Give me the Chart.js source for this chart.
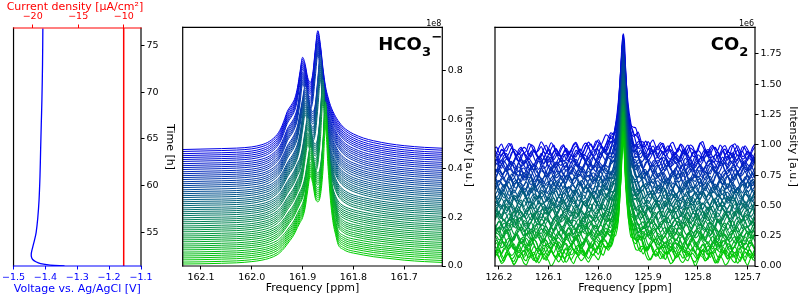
<!DOCTYPE html>
<html>
<head>
<script src="https://cdn.jsdelivr.net/npm/chart.js"></script>
<style>
  body { margin: 0; background: #fff; }
  canvas { position: absolute; top: 0; }
</style>
</head>
<body>
<canvas id="echem" width="181" height="296" style="left:0"></canvas>
<canvas id="hco3" width="299" height="296" style="left:181px"></canvas>
<canvas id="co2" width="320" height="296" style="left:480px"></canvas>
<script>
// ---------- left panel: potential / current vs time ----------
const echemTime = [51.42, 51.5, 51.65, 51.85, 52.1, 52.4, 52.8, 53.4, 54.2, 55, 56.5, 58.4, 61, 63.8, 66.5, 69.1, 73, 76.8];
const echemVoltage = [-1.34, -1.385, -1.415, -1.43, -1.44, -1.444, -1.444, -1.44, -1.434, -1.429, -1.424, -1.42, -1.417, -1.415, -1.413, -1.411, -1.409, -1.408];
const currentTime = [51.4, 76.85];
const currentDensity = [-10, -10];
const timeTicks = [55, 60, 65, 70, 75];
const voltageTicks = [-1.5, -1.4, -1.3, -1.2, -1.1];
const currentTicks = [-20, -15, -10];

// ---------- HCO3- spectra (intensity in 1e8) ----------
const hcoFreq = [162.14, 162.10, 162.06, 162.03, 162.00, 161.98, 161.965, 161.95, 161.945, 161.94, 161.935, 161.93, 161.925, 161.92, 161.915, 161.91, 161.905, 161.90, 161.895, 161.89, 161.885, 161.88, 161.875, 161.87, 161.865, 161.86, 161.855, 161.85, 161.845, 161.84, 161.835, 161.83, 161.82, 161.81, 161.80, 161.78, 161.76, 161.73, 161.70, 161.66, 161.62];
// spectrum above its own baseline, from the earliest (front) to the latest (back) traces
const hcoSpec1 = [0.000, 0.001, 0.003, 0.005, 0.010, 0.016, 0.024, 0.038, 0.046, 0.056, 0.068, 0.082, 0.096, 0.110, 0.128, 0.150, 0.170, 0.190, 0.230, 0.300, 0.360, 0.330, 0.270, 0.255, 0.280, 0.380, 0.560, 0.400, 0.260, 0.170, 0.120, 0.080, 0.060, 0.050, 0.045, 0.037, 0.030, 0.023, 0.016, 0.010, 0.006];
const hcoSpec2 = [0.000, 0.001, 0.003, 0.005, 0.010, 0.016, 0.025, 0.041, 0.050, 0.061, 0.075, 0.090, 0.105, 0.119, 0.138, 0.160, 0.182, 0.205, 0.245, 0.310, 0.365, 0.335, 0.275, 0.258, 0.285, 0.385, 0.550, 0.400, 0.265, 0.178, 0.128, 0.088, 0.064, 0.053, 0.047, 0.038, 0.031, 0.023, 0.016, 0.010, 0.006];
const hcoSpec3 = [0.000, 0.001, 0.003, 0.005, 0.010, 0.017, 0.026, 0.044, 0.054, 0.066, 0.082, 0.099, 0.114, 0.129, 0.148, 0.171, 0.195, 0.235, 0.305, 0.365, 0.335, 0.275, 0.258, 0.285, 0.390, 0.540, 0.390, 0.260, 0.185, 0.135, 0.105, 0.085, 0.066, 0.056, 0.049, 0.039, 0.031, 0.023, 0.016, 0.010, 0.006];
const hcoSpec4 = [0.000, 0.002, 0.003, 0.005, 0.010, 0.017, 0.027, 0.047, 0.058, 0.072, 0.090, 0.108, 0.124, 0.139, 0.159, 0.183, 0.205, 0.250, 0.315, 0.370, 0.340, 0.280, 0.262, 0.290, 0.390, 0.525, 0.382, 0.265, 0.195, 0.150, 0.120, 0.098, 0.075, 0.062, 0.053, 0.042, 0.033, 0.023, 0.016, 0.010, 0.006];
const hcoSpec5 = [0.000, 0.002, 0.003, 0.005, 0.010, 0.018, 0.028, 0.050, 0.062, 0.078, 0.098, 0.118, 0.135, 0.150, 0.170, 0.196, 0.240, 0.310, 0.372, 0.342, 0.285, 0.265, 0.295, 0.400, 0.515, 0.400, 0.285, 0.215, 0.175, 0.148, 0.127, 0.107, 0.082, 0.068, 0.058, 0.044, 0.034, 0.024, 0.016, 0.009, 0.005];
const hcoSpec6 = [0.000, 0.002, 0.004, 0.006, 0.011, 0.018, 0.030, 0.054, 0.067, 0.085, 0.107, 0.130, 0.147, 0.162, 0.183, 0.212, 0.265, 0.322, 0.375, 0.345, 0.290, 0.270, 0.300, 0.405, 0.505, 0.405, 0.290, 0.218, 0.178, 0.152, 0.130, 0.110, 0.085, 0.070, 0.060, 0.045, 0.035, 0.024, 0.016, 0.009, 0.005];
const hcoSpec7 = [0.000, 0.002, 0.004, 0.006, 0.011, 0.019, 0.032, 0.058, 0.072, 0.092, 0.117, 0.143, 0.160, 0.175, 0.197, 0.232, 0.300, 0.376, 0.348, 0.293, 0.272, 0.305, 0.405, 0.495, 0.428, 0.333, 0.258, 0.213, 0.178, 0.154, 0.134, 0.116, 0.090, 0.074, 0.063, 0.046, 0.036, 0.024, 0.016, 0.009, 0.005];
const hcoSpec8 = [0.000, 0.002, 0.004, 0.006, 0.011, 0.020, 0.034, 0.062, 0.078, 0.100, 0.128, 0.157, 0.174, 0.190, 0.212, 0.255, 0.320, 0.378, 0.350, 0.295, 0.275, 0.310, 0.410, 0.487, 0.430, 0.335, 0.260, 0.215, 0.180, 0.155, 0.135, 0.118, 0.092, 0.076, 0.064, 0.047, 0.036, 0.024, 0.016, 0.009, 0.005];
const hcoShapes = [hcoSpec1, hcoSpec2, hcoSpec3, hcoSpec4, hcoSpec5, hcoSpec6, hcoSpec7, hcoSpec8];
const hcoBaselines = [0.008, 0.016, 0.025, 0.033, 0.041, 0.049, 0.057, 0.066, 0.074, 0.082, 0.090, 0.099, 0.107, 0.115, 0.123, 0.131, 0.140, 0.148, 0.156, 0.164, 0.173, 0.181, 0.189, 0.197, 0.206, 0.214, 0.222, 0.230, 0.238, 0.247, 0.255, 0.263, 0.271, 0.280, 0.288, 0.296, 0.304, 0.312, 0.321, 0.329, 0.337, 0.345, 0.354, 0.362, 0.370, 0.378, 0.386, 0.395, 0.403, 0.411, 0.419, 0.428, 0.436, 0.444, 0.452, 0.460, 0.469, 0.477];
const hcoXTicks = [162.1, 162.0, 161.9, 161.8, 161.7];
const hcoYTicks = [0, 0.2, 0.4, 0.6, 0.8];

// ---------- CO2 spectra (intensity in 1e6) ----------
const co2Freq = [126.210, 126.205, 126.200, 126.195, 126.190, 126.185, 126.180, 126.175, 126.170, 126.165,
  126.160, 126.155, 126.150, 126.145, 126.140, 126.135, 126.130, 126.125, 126.120, 126.115,
  126.110, 126.105, 126.100, 126.095, 126.090, 126.085, 126.080, 126.075, 126.070, 126.065,
  126.060, 126.055, 126.050, 126.045, 126.040, 126.035, 126.030, 126.025, 126.020, 126.015,
  126.010, 126.005, 126.000, 125.995, 125.990, 125.985, 125.980, 125.975, 125.970, 125.965,
  125.960, 125.955, 125.9525, 125.950, 125.9475, 125.945, 125.940, 125.935, 125.930, 125.925,
  125.920, 125.915, 125.910, 125.905, 125.900, 125.895, 125.890, 125.885, 125.880, 125.875,
  125.870, 125.865, 125.860, 125.855, 125.850, 125.845, 125.840, 125.835, 125.830, 125.825,
  125.820, 125.815, 125.810, 125.805, 125.800, 125.795, 125.790, 125.785, 125.780, 125.775,
  125.770, 125.765, 125.760, 125.755, 125.750, 125.745, 125.740, 125.735, 125.730, 125.725,
  125.720, 125.715, 125.710, 125.705, 125.700, 125.695, 125.690, 125.685];
const co2Peak = [0.002, 0.002, 0.002, 0.002, 0.003, 0.003, 0.003, 0.003, 0.003, 0.003,
  0.004, 0.004, 0.004, 0.004, 0.005, 0.005, 0.005, 0.005, 0.006, 0.006,
  0.006, 0.007, 0.007, 0.008, 0.008, 0.009, 0.009, 0.010, 0.010, 0.011,
  0.012, 0.013, 0.015, 0.016, 0.018, 0.020, 0.022, 0.025, 0.028, 0.032,
  0.036, 0.042, 0.048, 0.057, 0.067, 0.081, 0.098, 0.123, 0.161, 0.227,
  0.360, 0.663, 0.883, 1.000, 0.883, 0.663, 0.360, 0.227, 0.161, 0.123,
  0.098, 0.081, 0.067, 0.057, 0.048, 0.042, 0.036, 0.032, 0.028, 0.025,
  0.022, 0.020, 0.018, 0.016, 0.015, 0.013, 0.012, 0.011, 0.010, 0.010,
  0.009, 0.009, 0.008, 0.008, 0.007, 0.007, 0.006, 0.006, 0.006, 0.005,
  0.005, 0.005, 0.005, 0.004, 0.004, 0.004, 0.004, 0.003, 0.003, 0.003,
  0.003, 0.003, 0.003, 0.002, 0.002, 0.002, 0.002, 0.002];
const co2PeakHeight = 0.97;
const co2Baselines = [0.05, 0.07, 0.08, 0.10, 0.11, 0.13, 0.15, 0.16, 0.18, 0.19, 0.21, 0.23, 0.24, 0.26, 0.27, 0.29, 0.31, 0.32, 0.34, 0.35, 0.37, 0.39, 0.40, 0.42, 0.43, 0.45, 0.47, 0.48, 0.50, 0.51, 0.53, 0.55, 0.56, 0.58, 0.59, 0.61, 0.63, 0.64, 0.66, 0.67, 0.69, 0.71, 0.72, 0.74, 0.75, 0.77, 0.79, 0.80, 0.82, 0.83, 0.85, 0.87, 0.88, 0.90, 0.91, 0.93, 0.95, 0.96];
// baseline noise of the spectra, in units of co2NoiseUnit
const co2NoiseUnit = 0.015;
const co2NoiseA = [0, 3, 1, -2, -1, 2, 3, 0, -3, -1, 2, 1, -2, -3, 0, 2, 4, 1, -2, 0, 3, 1, -1, -4, -2, 1, 3, 0, -2, 1, 2, -1, -3, 0, 2, 4, 2, -1, -3, -1, 1, -1, -3, 0, 3, 2, -1, 0, 2, -1, -2, 1, 4, 2, -2, -3, 0, 2, 0, -2, -1, 2, 3, -1, -3, -2, 1, 3, 1, -1, 1, 3, 0, -3, -2, 1, 2, -1, -2, 0, 3, 2, -1, -4, -1, 2, 1, -1, 1, 4, 1, -2, -1, 2, 0, -3, -2, 1, 3, 1, -2, 0, 2, -1, -3, 0, 3, 2, -1, -2, 1, 0, -2, 1, 4, 2, -1, -3, 0, 2, 1];
const co2NoiseB = [2, -1, -3, 0, 2, 1, -2, -1, 3, 4, 0, -2, 1, 2, -1, -4, -2, 1, 2, -1, -2, 2, 3, 0, -3, -1, 2, 0, -2, 1, 3, 1, -1, -3, -1, 2, 4, 1, -2, 0, 2, -1, -3, -2, 1, 3, 0, -1, 2, 3, -1, -3, 0, 1, -2, -1, 3, 2, -1, -2, 1, 4, 2, -1, -3, 0, 2, -1, -2, 1, 2, -2, -4, -1, 2, 3, 0, -2, 1, 2, 0, -3, -1, 2, 1, -1, 1, 3, 1, -2, -3, 0, 3, 1, -2, -1, 2, 0, -3, -1, 2, 4, 1, -1, 0, -2, -3, 1, 3, 0, -2, 1, 2, -1, -2, 2, 3, 0, -2];
const co2NoiseC = [-1, 1, 3, 0, -2, -1, 2, 0, -3, -2, 1, 3, 1, -1, 2, 3, -1, -3, -1, 2, 1, -2, -3, 0, 3, 2, -1, 1, 4, 2, -2, -3, 0, 1, -2, -1, 2, 3, 0, -2, 0, 2, -1, -4, -2, 2, 3, 1, -1, 1, 2, -1, -3, -1, 2, 0, -2, 1, 4, 3, -1, -2, 1, 0, -3, -2, 1, 2, -1, 0, 3, 1, -2, -1, 2, -1, -3, 0, 2, 3, 0, -2, -1, 1, -1, -3, 1, 3, 1, -1, 2, 4, 1, -2, -3, 0, 1, -1, -2, 2, 3, -1, -2, 1, 2, -2, -4, -1, 1, 3, 2, -1, 0, 2, -1, -3, 0, 2, 1];
const co2NoiseD = [1, -2, -1, 2, 3, 0, -2, 1, 2, -1, -3, -1, 2, 4, 1, -2, -1, 1, -1, -3, 0, 2, 1, -2, 0, 3, 2, -1, -3, -2, 1, 3, 0, -1, 2, 1, -2, -4, -1, 2, 1, -1, 1, 3, 2, -1, -2, 1, 0, -3, -2, 2, 4, 1, -1, 0, 2, -1, -3, 0, 2, 0, -2, 1, 3, 1, -2, -3, -1, 2, 3, 0, -1, 2, 1, -2, -3, 0, 1, -1, 0, 3, 4, 0, -2, -1, 2, -1, -3, -1, 2, 2, -1, 0, 3, 1, -3, -2, 1, 2, 0, -2, 1, 3, 0, -3, -1, 2, 1, -1, 2, 4, 1, -2, -2, 1, 0, -3];
const co2Noise = [co2NoiseA, co2NoiseB, co2NoiseC, co2NoiseD];
const co2XTicks = [126.2, 126.1, 126.0, 125.9, 125.8, 125.7];
const co2YTicks = [0, 0.25, 0.5, 0.75, 1.0, 1.25, 1.5, 1.75];

// ---------- helpers ----------
Chart.defaults.font.family = "'DejaVu Sans', sans-serif";

const fmt = d => v => v.toFixed(d).replace('-', '\u2212');
const early = [0, 205, 0], late = [0, 0, 230];
function traceColor(i, n) {
  const t = i / (n - 1);
  const c = early.map((e, k) => Math.round(e + (late[k] - e) * t));
  return `rgb(${c[0]},${c[1]},${c[2]})`;
}

function axis(o) {
  const horizontal = o.position === 'top' || o.position === 'bottom';
  const color = o.color || '#000';
  return {
    type: 'linear', position: o.position, min: o.min, max: o.max, reverse: !!o.reverse,
    afterBuildTicks: s => { s.ticks = o.ticks.map(v => ({ value: v })); },
    afterFit: s => { if (horizontal) s.height = o.size; else s.width = o.size; },
    grid: { display: true, drawOnChartArea: false, drawTicks: true, tickLength: 3.5, color: color, lineWidth: 1 },
    border: { display: false },
    ticks: { color: color, font: { size: 9.5 }, padding: 2, maxRotation: 0, autoSkip: false, callback: o.format },
    title: { display: !!o.title, text: o.title, color: color, font: { size: 11 }, padding: o.titlePad }
  };
}

function spines(c) {
  return {
    id: 'spines',
    afterDraw(chart) {
      const { ctx, chartArea: a } = chart;
      ctx.save();
      ctx.lineWidth = 1.2;
      ctx.lineCap = 'square';
      [['left', a.left, a.top, a.left, a.bottom], ['right', a.right, a.top, a.right, a.bottom],
       ['top', a.left, a.top, a.right, a.top], ['bottom', a.left, a.bottom, a.right, a.bottom]].forEach(([k, x1, y1, x2, y2]) => {
        ctx.strokeStyle = c[k];
        ctx.beginPath(); ctx.moveTo(x1, y1); ctx.lineTo(x2, y2); ctx.stroke();
      });
      ctx.restore();
    }
  };
}

// the top-axis title is wider than the plot, so it is drawn here instead of by the scale (which would squeeze it)
const currentTitle = {
  id: 'currentTitle',
  afterDraw(chart) {
    const { ctx, chartArea: a } = chart;
    ctx.save();
    ctx.fillStyle = '#ff0000';
    ctx.font = "11px 'DejaVu Sans'";
    ctx.textAlign = 'center';
    ctx.textBaseline = 'middle';
    ctx.fillText('Current density [\u03bcA/cm\u00b2]', (a.left + a.right) / 2 - 2.3, 6.7);
    ctx.restore();
  }
};

// chemical formula in the corner + the exponent label of the y axis
function panelLabel(main, sub, sup, fromRight, exponent) {
  return {
    id: 'panelLabel',
    afterDraw(chart) {
      const { ctx, chartArea: a } = chart;
      ctx.save();
      ctx.fillStyle = '#000';
      ctx.textBaseline = 'alphabetic';
      ctx.textAlign = 'left';
      let x = a.right - fromRight;
      ctx.font = "bold 18px 'DejaVu Sans'";
      ctx.fillText(main, x, a.top + 22.7);
      x += ctx.measureText(main).width;
      ctx.font = "bold 13px 'DejaVu Sans'";
      ctx.fillText(sub, x, a.top + 28.5);
      x += ctx.measureText(sub).width + 0.5;
      if (sup) ctx.fillText(sup, x, a.top + 13.5);
      ctx.font = "8px 'DejaVu Sans'";
      ctx.textAlign = 'right';
      ctx.fillText(exponent, a.right - 1, a.top - 1.5);
      ctx.restore();
    }
  };
}

const common = { responsive: false, animation: false, events: [], plugins: { legend: { display: false }, tooltip: { enabled: false } } };

// ---------- left panel ----------
new Chart(document.getElementById('echem'), {
  type: 'line',
  data: {
    datasets: [
      { data: echemTime.map((t, i) => ({ x: echemVoltage[i], y: t })), xAxisID: 'xV', yAxisID: 'yT',
        borderColor: '#0000ff', borderWidth: 1.3, pointRadius: 0, tension: 0.35 },
      { data: currentTime.map((t, i) => ({ x: currentDensity[i], y: t })), xAxisID: 'xI', yAxisID: 'yT',
        borderColor: '#ff0000', borderWidth: 1.5, pointRadius: 0 }
    ]
  },
  options: Object.assign({}, common, {
    layout: { padding: { left: 12, right: 0, top: 0, bottom: 0 } },
    scales: {
      xV: axis({ position: 'bottom', min: -1.5, max: -1.1, ticks: voltageTicks, format: fmt(1), color: '#0000ff',
        title: 'Voltage vs. Ag/AgCl [V]', titlePad: { top: 0, bottom: 0 }, size: 30 }),
      xI: axis({ position: 'top', min: -22.1, max: -8.1, ticks: currentTicks, format: fmt(0), color: '#ff0000',
        title: '', titlePad: 0, size: 28 }),
      yT: axis({ position: 'right', min: 51.4, max: 76.85, ticks: timeTicks, format: fmt(0),
        title: 'Time [h]', titlePad: { top: 4.4, bottom: 0 }, size: 40 })
    }
  }),
  plugins: [spines({ left: '#000', right: '#000', top: '#ff0000', bottom: '#0000ff' }), currentTitle]
});

// ---------- HCO3- panel ----------
const hcoDatasets = hcoBaselines.map((b, i) => {
  const shape = hcoShapes[Math.floor(i * hcoShapes.length / hcoBaselines.length)];
  return {
    data: hcoFreq.map((f, j) => ({ x: f, y: b + shape[j] })),
    borderColor: traceColor(i, hcoBaselines.length),
    backgroundColor: '#ffffff',
    fill: 'origin',
    borderWidth: 1,
    pointRadius: 0,
    cubicInterpolationMode: 'monotone'
  };
});

new Chart(document.getElementById('hco3'), {
  type: 'line',
  data: { datasets: hcoDatasets },
  options: Object.assign({}, common, {
    layout: { padding: { left: 1.7, right: 0, top: 27.3, bottom: 0 } },
    scales: {
      x: axis({ position: 'bottom', min: 161.625, max: 162.136, reverse: true, ticks: hcoXTicks, format: fmt(1),
        title: 'Frequency [ppm]', titlePad: { top: 0, bottom: 1 }, size: 30 }),
      y: axis({ position: 'right', min: 0, max: 0.978, ticks: hcoYTicks, format: fmt(1),
        title: 'Intensity [a.u.]', titlePad: { top: 4.4, bottom: 0 }, size: 37.7 })
    }
  }),
  plugins: [spines({ left: '#000', right: '#000', top: '#000', bottom: '#000' }), panelLabel('HCO', '3', '\u2212', 64, '1e8')]
});

// ---------- CO2 panel ----------
const co2Datasets = co2Baselines.map((b, i) => {
  const noise = co2Noise[i % co2Noise.length];
  const shift = i * 7;
  return {
    data: co2Freq.map((f, j) => ({ x: f, y: b + co2PeakHeight * co2Peak[j] + co2NoiseUnit * noise[(j + shift) % noise.length] })),
    borderColor: traceColor(i, co2Baselines.length),
    borderWidth: 1.1,
    pointRadius: 0,
    fill: false,
    tension: 0.3
  };
});

new Chart(document.getElementById('co2'), {
  type: 'line',
  data: { datasets: co2Datasets },
  options: Object.assign({}, common, {
    layout: { padding: { left: 15, right: 0, top: 27.3, bottom: 0 } },
    scales: {
      x: axis({ position: 'bottom', min: 125.685, max: 126.208, reverse: true, ticks: co2XTicks, format: fmt(1),
        title: 'Frequency [ppm]', titlePad: { top: 0, bottom: 1 }, size: 30 }),
      y: axis({ position: 'right', min: 0, max: 1.97, ticks: co2YTicks, format: fmt(2),
        title: 'Intensity [a.u.]', titlePad: { top: 1, bottom: 0 }, size: 45 })
    }
  }),
  plugins: [spines({ left: '#000', right: '#000', top: '#000', bottom: '#000' }), panelLabel('CO', '2', '', 44.3, '1e6')]
});
</script>
</body>
</html>
